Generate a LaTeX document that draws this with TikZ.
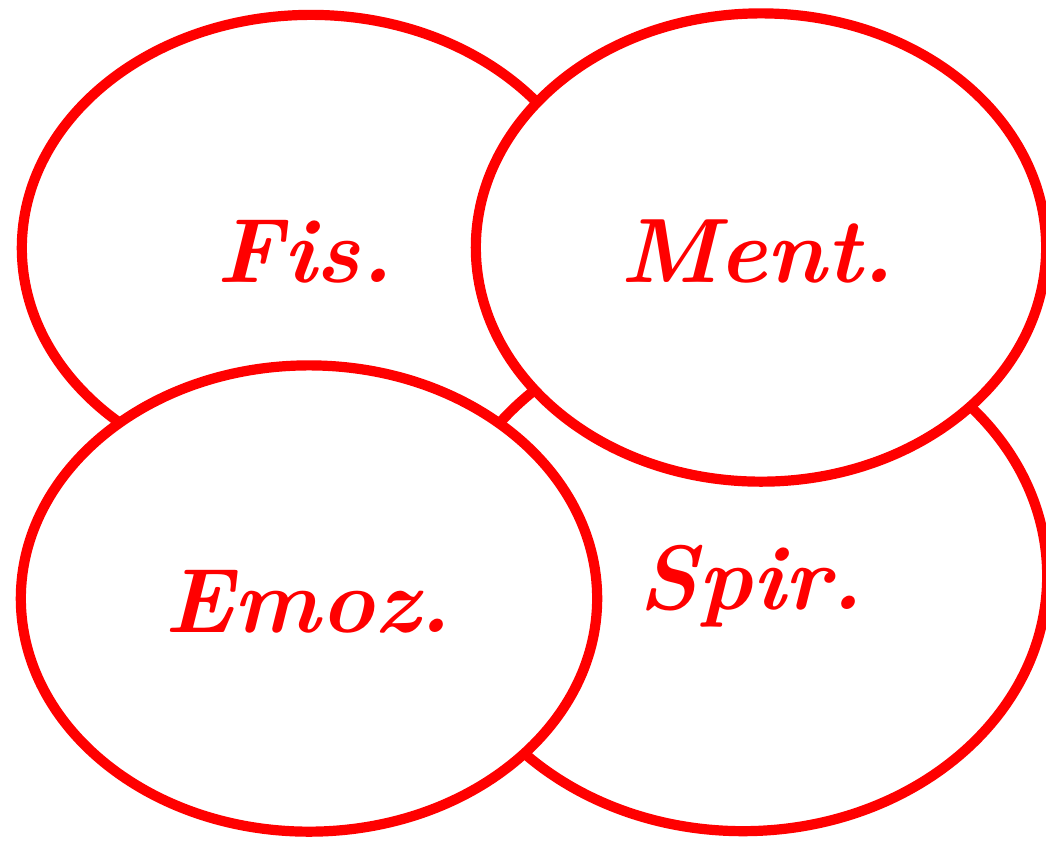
\documentclass[tikz,border=0pt]{standalone}
\usetikzlibrary{shapes.geometric}
\begin{document}
\begin{tikzpicture}[x=0.01cm,y=-0.01cm,
  blob/.style={ellipse, draw=red, fill=white, line width=2.9pt,
    inner sep=0pt, outer sep=0pt},
  lbl/.style={text=red, anchor=base, inner sep=0pt,
    font=\fontsize{26}{30}\selectfont\bfseries\itshape}]
\useasboundingbox (0,0) rectangle (1046,841);
\node[blob, minimum width=5.78cm, minimum height=4.66cm] (fis) at (311,248) {};
\node[blob, minimum width=6.08cm, minimum height=5.10cm] (spir) at (743,576) {};
\node[blob, minimum width=5.70cm, minimum height=4.68cm] (ment) at (761,247.5) {};
\node[blob, minimum width=5.76cm, minimum height=4.66cm] (emoz) at (309,598.5) {};
\node[lbl] (tfis) at (305,282) {Fis.};
\node[lbl] (tment) at (757,282) {Ment.};
\node[lbl] (temoz) at (308,632) {Emoz.};
\node[lbl] (tspir) at (751,609) {Spir.};
\end{tikzpicture}
\end{document}
